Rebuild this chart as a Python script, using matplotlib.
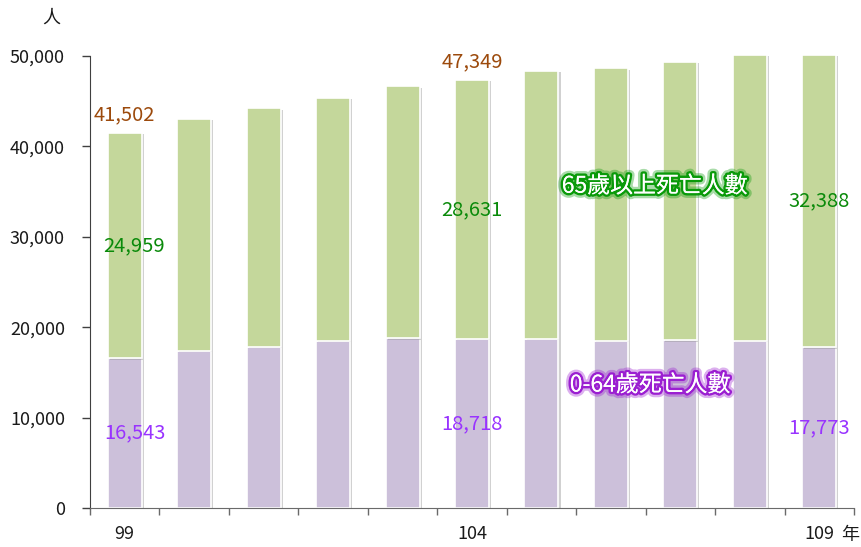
import numpy as np
import matplotlib
matplotlib.use("Agg")
import matplotlib.pyplot as plt
import matplotlib.patheffects as pe
from matplotlib.ticker import FuncFormatter

plt.rcParams['font.family'] = ['Noto Sans CJK TC', 'DejaVu Sans']

# data
years = ['99', '100', '101', '102', '103', '104', '105', '106', '107', '108', '109']
total = [41502, 43060, 44210, 45350, 46650, 47349, 48370, 48640, 49370, 50110, 50161]
under65 = [16543, 17370, 17810, 18510, 18770, 18718, 18730, 18470, 18550, 18510, 17773]
labeled = [0, 5, 10]
shown_years = ['99', '104', '109']

total = np.array(total)
under65 = np.array(under65)
over65 = total - under65
x = np.arange(len(years))

green = '#C4D79B'
purple = '#CCC0DA'
shadow = [pe.SimplePatchShadow(offset=(1.5, -1), shadow_rgbFace='#9a9a9a', alpha=0.45), pe.Normal()]

fig = plt.figure(figsize=(8.61, 5.47), dpi=100)
ax = fig.add_axes([90/861, 39/547, 764/861, 452/547])

b1 = ax.bar(x, under65, width=0.49, color=purple, edgecolor='white', linewidth=1.2)
b2 = ax.bar(x, over65, bottom=under65, width=0.49, color=green, edgecolor='white', linewidth=1.2)
for p in list(b1) + list(b2):
    p.set_path_effects(shadow)
    p.set_clip_on(False)

ax.set_xlim(-0.5, len(years) - 0.5)
ax.set_ylim(0, 50000)

# value labels
for i in labeled:
    dx = 7 if i == 0 else 0
    ax.annotate(f'{total[i]:,}', (x[i], total[i]), xytext=(0, 13), textcoords='offset points',
                ha='center', va='center', color='#9C4A0C', fontsize=14.5)
    ax.annotate(f'{over65[i]:,}', (x[i], under65[i] + over65[i] / 2), xytext=(dx, 0),
                textcoords='offset points', ha='center', va='center', color='#0A8A0A', fontsize=14.5)
    ax.annotate(f'{under65[i]:,}', (x[i], under65[i] / 2), xytext=(dx, 0),
                textcoords='offset points', ha='center', va='center', color='#9933FF', fontsize=14.5)

# series names with glow
def glow(c):
    return [pe.withStroke(linewidth=7, foreground=c, alpha=0.35),
            pe.withStroke(linewidth=3.5, foreground=c), pe.Normal()]

ax.text(0.739, 0.712, '65歲以上死亡人數', transform=ax.transAxes, ha='center', va='center',
        fontsize=16.5, color='white', path_effects=glow('#0A9A0A'))
ax.text(0.733, 0.272, '0-64歲死亡人數', transform=ax.transAxes, ha='center', va='center',
        fontsize=16.5, color='white', path_effects=glow('#9B1FD1'))

# axes styling
for s in ['top', 'right']:
    ax.spines[s].set_visible(False)
ax.spines['left'].set_color('#404040')
ax.spines['bottom'].set_color('#6a6a6a')
ax.set_yticks(np.arange(0, 50001, 10000))
ax.yaxis.set_major_formatter(FuncFormatter(lambda v, p: f'{int(v):,}'))
ax.tick_params(axis='y', length=6, width=1, color='#404040', pad=12, labelsize=13, labelcolor='#1a1a1a')

ax.set_xticks([x[years.index(y)] for y in shown_years])
ax.set_xticklabels(shown_years)
ax.set_xticks(np.arange(-0.5, len(years)), minor=True)
ax.tick_params(axis='x', which='major', length=0, pad=12, labelsize=13, labelcolor='#1a1a1a')
ax.tick_params(axis='x', which='minor', length=5, width=1, color='#6a6a6a')

fig.text(51/861, 1 - 18/547, '人', ha='center', va='center', fontsize=13, color='#1a1a1a')
fig.text(850/861, 1 - 535/547, '年', ha='center', va='center', fontsize=13, color='#1a1a1a')

fig.savefig('out.png', dpi=100)
